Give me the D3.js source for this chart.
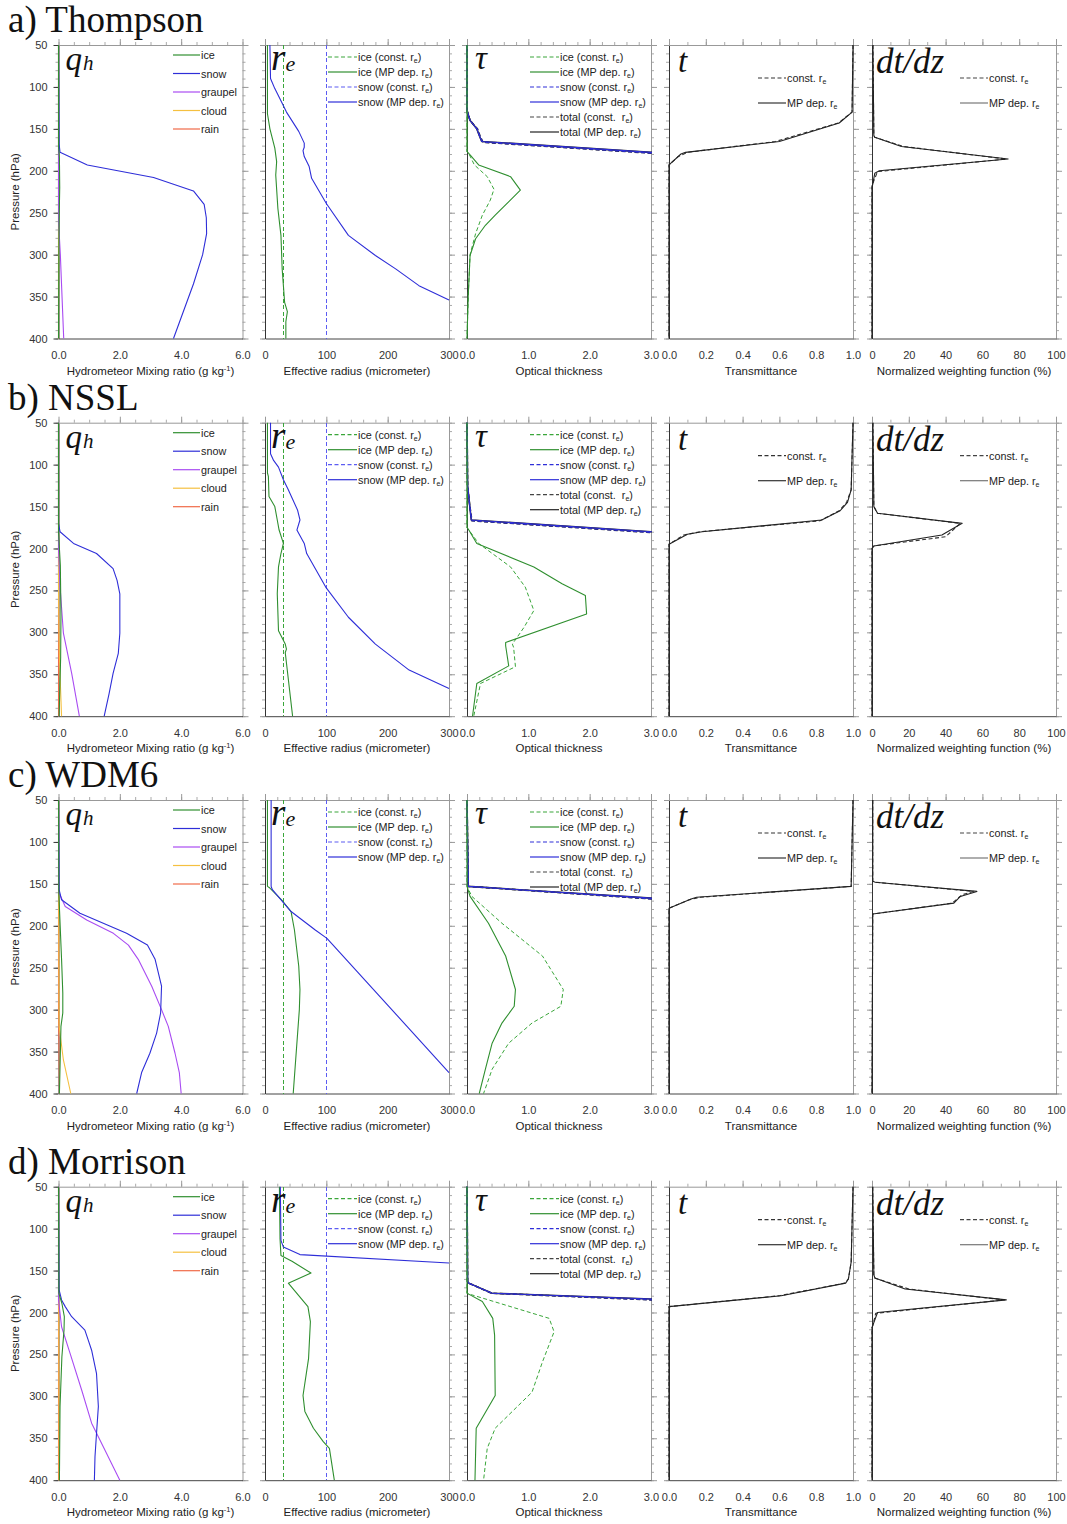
<!DOCTYPE html>
<html>
<head>
<meta charset="utf-8">
<script src="https://cdn.jsdelivr.net/npm/d3@7"></script>
<style>
body { margin: 0; background: #fff; }
svg text { font-family: "Liberation Sans", Arial, sans-serif; }
</style>
</head>
<body>
<div id="chart"></div>
<script>
// ---- data: each series is a list of [pressure (hPa), value] ----
const schemeTitles = ["a) Thompson", "b) NSSL", "c) WDM6", "d) Morrison"];
const hydroNames = ["ice", "snow", "graupel", "cloud", "rain"];

const pressureTicks = [50, 100, 150, 200, 250, 300, 350, 400];
const qhTicks = [0, 2, 4, 6];
const reTicks = [0, 100, 200, 300];
const tauTicks = [0, 1, 2, 3];
const tTicks = [0, 0.2, 0.4, 0.6, 0.8, 1.0];
const dtdzTicks = [0, 20, 40, 60, 80, 100];
const reConst = { ice: 30, snow: 100 };

// a) Thompson
const thompsonQh = {
  ice: [[50,0],[170,0],[185,0.03],[220,0.04],[260,0.02],[300,0.01],[400,0]],
  snow: [[50,0],[168,0.02],[178,0.05],[193,0.94],[208,3.1],[224,4.4],[240,4.75],[256,4.82],[275,4.83],[300,4.7],[335,4.4],[355,4.2],[400,3.75]],
  graupel: [[50,0],[260,0],[300,0.06],[400,0.17]],
  cloud: [[50,0],[400,0]],
  rain: [[50,0],[400,0]]
};
const thompsonRe = {
  ice: [[50,4],[132,4],[150,8],[173,16],[189,19],[205,17.5],[245,21],[277,26],[317,28],[357,32],[368,36.5],[380,34],[400,34]],
  snow: [[50,8],[90,9],[102,16],[118,27],[130,35],[153,55],[167,64],[172,64],[176,62],[183,64],[195,72],[209,76],[239,100],[277,136],[301,180],[317,213],[337,251],[354,300]]
};
const thompsonTau = {
  iceConst: [[50,0],[177,0],[181,0.04],[193,0.12],[207,0.33],[222,0.44],[235,0.38],[253,0.25],[275,0.14],[300,0.05],[350,0.02],[400,0]],
  iceMP: [[50,0],[177,0],[181,0.05],[193,0.19],[207,0.71],[223,0.87],[253,0.46],[265,0.3],[281,0.14],[301,0.05],[349,0.02],[400,0]],
  snowConst: [[50,0],[128,0],[140,0.05],[150,0.17],[158,0.21],[166,0.26],[179,3.0],[183,3.8]],
  snowMP: [[50,0],[128,0],[140,0.05],[150,0.16],[158,0.2],[165,0.24],[178,3.0],[182,3.8]]
};
const thompsonT = {
  constRe: [[50,1],[130,0.995],[143,0.92],[165,0.58],[178,0.1],[183,0.05],[193,0],[400,0]],
  mpRe: [[50,1],[130,0.995],[143,0.925],[165,0.6],[178,0.09],[180,0.065],[193,0],[400,0]]
};
const thompsonDtdz = {
  constRe: [[50,0.5],[158,1],[160,1.5],[171,17],[186,73],[201,3],[212,1],[218,0],[400,0]],
  mpRe: [[50,0.5],[158,1],[160,1.5],[171,16],[186,74],[200,4],[203,1.5],[215,0.5],[220,0],[400,0]]
};

// b) NSSL
const nsslQh = {
  ice: [[50,0],[180,0],[220,0.06],[280,0.08],[330,0.07],[400,0.02]],
  snow: [[50,0],[170,0],[180,0.05],[194,0.49],[206,1.24],[224,1.78],[238,1.91],[254,2.0],[301,2.0],[325,1.95],[349,1.78],[373,1.65],[400,1.49]],
  graupel: [[50,0],[200,0],[245,0.05],[301,0.16],[349,0.43],[400,0.68]],
  cloud: [[50,0],[250,0],[330,0.03],[400,0.1]],
  rain: [[50,0],[400,0]]
};
const nsslRe = {
  ice: [[50,4],[110,4],[114,5.5],[138,6.5],[150,16],[166,20],[178,23],[194,30],[206,26],[222,22],[254,20],[298,22],[314,33],[320,35],[324,33],[400,45]],
  snow: [[50,9],[87,9],[95,14],[103,22],[118,30],[130,38],[154,53],[166,57],[178,52],[194,64],[206,68],[246,99],[282,136],[314,180],[345,235],[367,300]]
};
const nsslTau = {
  iceConst: [[50,0],[175,0],[178,0.03],[194,0.19],[222,0.71],[246,0.95],[274,1.09],[294,0.93],[314,0.74],[318,0.76],[341,0.79],[361,0.22],[400,0.11]],
  iceMP: [[50,0],[175,0],[178,0.03],[194,0.16],[222,1.09],[242,1.55],[256,1.93],[278,1.95],[312,0.63],[316,0.63],[340,0.68],[361,0.16],[400,0.09]],
  snowConst: [[50,0],[126,0.01],[146,0.04],[167,0.08],[181,3.0],[183,3.5]],
  snowMP: [[50,0],[126,0.01],[146,0.04],[166,0.07],[180,3.0],[182,3.5]]
};
const nsslT = {
  constRe: [[50,1],[130,0.99],[145,0.965],[155,0.925],[167,0.82],[180,0.17],[184,0.08],[195,0],[400,0]],
  mpRe: [[50,1],[130,0.99],[145,0.97],[155,0.93],[166,0.83],[180,0.18],[183,0.1],[195,0],[400,0]]
};
const nsslDtdz = {
  constRe: [[50,0.5],[150,1],[158,3],[170,48],[186,40],[197,1],[200,0],[400,0]],
  mpRe: [[50,0.5],[150,1],[158,3],[170,49],[184,38],[197,1],[200,0],[400,0]]
};

// c) WDM6
const wdm6Qh = {
  ice: [[50,0],[161,0.01],[240,0.1],[280,0.14],[304,0.14],[320,0.08],[400,0.03]],
  snow: [[50,0],[157,0.02],[169,0.1],[185,0.7],[209,2.22],[223,2.9],[240,3.15],[272,3.36],[304,3.33],[328,3.2],[352,2.98],[375,2.71],[400,2.55]],
  graupel: [[50,0],[161,0.02],[177,0.22],[193,0.92],[209,1.79],[223,2.28],[240,2.6],[272,3.04],[300,3.36],[320,3.58],[352,3.8],[375,3.94],[400,4.0]],
  cloud: [[50,0],[320,0.02],[360,0.16],[400,0.4]],
  rain: [[50,0],[300,0],[400,0.03]]
};
const wdm6Re = {
  ice: [[50,4],[153,4],[155,8],[169,27],[183,42.5],[205,48],[248,55],[276,57],[300,56],[400,46]],
  snow: [[50,10],[153,10],[157,12],[183,42.5],[205,82],[215,101],[375,300]]
};
const wdm6Tau = {
  iceConst: [[50,0],[153,0],[165,0.08],[197,0.57],[236,1.23],[276,1.57],[296,1.53],[316,1.06],[340,0.68],[371,0.41],[400,0.27]],
  iceMP: [[50,0],[153,0],[165,0.05],[197,0.35],[236,0.63],[276,0.79],[296,0.77],[316,0.57],[340,0.41],[371,0.3],[400,0.2]],
  snowConst: [[50,0],[153,0.02],[168,3.0],[170,3.4]],
  snowMP: [[50,0],[153,0.02],[167,3.0],[169,3.4]]
};
const wdm6T = {
  constRe: [[50,1],[153,0.99],[166,0.17],[169,0.11],[179,0],[400,0]],
  mpRe: [[50,1],[153,0.99],[166,0.15],[168,0.12],[179,0],[400,0]]
};
const wdm6Dtdz = {
  constRe: [[50,0.4],[147,0.4],[148,1.8],[159,55],[163,49],[173,43.6],[186,0.4],[400,0]],
  mpRe: [[50,0.4],[147,0.4],[148,1.8],[159,57],[165,48],[173,44.5],[186,0.4],[400,0]]
};

// d) Morrison
const morrisonQh = {
  ice: [[50,0],[177,0.01],[189,0.11],[205,0.19],[221,0.18],[253,0.11],[312,0.05],[400,0.03]],
  snow: [[50,0],[173,0.02],[185,0.1],[193,0.22],[205,0.43],[221,0.86],[233,0.97],[245,1.08],[273,1.24],[312,1.3],[344,1.24],[372,1.19],[400,1.17]],
  graupel: [[50,0],[185,0],[217,0.1],[249,0.38],[293,0.76],[332,1.08],[360,1.46],[400,2.0]],
  cloud: [[50,0],[200,0.01],[400,0.02]],
  rain: [[50,0],[400,0]]
};
const morrisonRe = {
  ice: [[50,23.5],[112,24.5],[132,26],[139,44],[153,75],[165,38],[193,70],[211,74],[255,71],[299,62],[318,65],[338,79],[354,95],[362,105],[400,113]],
  snow: [[50,25],[114,26],[122,30],[131,57],[141,300]]
};
const morrisonTau = {
  iceConst: [[50,0],[177,0],[179,0.08],[185,0.35],[207,1.34],[223,1.42],[259,1.23],[295,1.06],[338,0.46],[362,0.33],[400,0.27]],
  iceMP: [[50,0],[177,0],[179,0.05],[187,0.25],[207,0.42],[227,0.45],[299,0.46],[338,0.15],[400,0.13]],
  snowConst: [[50,0],[163,0.01],[165,0.03],[177,0.4],[185,3.0],[187,3.6]],
  snowMP: [[50,0],[163,0.01],[165,0.03],[177,0.41],[184,3.0],[186,3.6]]
};
const morrisonT = {
  constRe: [[50,1],[140,0.99],[160,0.975],[165,0.955],[180,0.6],[193,0],[400,0]],
  mpRe: [[50,1],[140,0.99],[160,0.975],[165,0.96],[180,0.61],[193,0],[400,0]]
};
const morrisonDtdz = {
  constRe: [[50,0.4],[155,1],[159,1.6],[172,20],[185,72],[201,2],[215,0.5],[218,0],[400,0]],
  mpRe: [[50,0.4],[155,1],[159,1.6],[172,18],[185,73],[200,3],[215,0.5],[218,0],[400,0]]
};

const rows = [
  { qh: thompsonQh, re: thompsonRe, tau: thompsonTau, t: thompsonT, dtdz: thompsonDtdz },
  { qh: nsslQh, re: nsslRe, tau: nsslTau, t: nsslT, dtdz: nsslDtdz },
  { qh: wdm6Qh, re: wdm6Re, tau: wdm6Tau, t: wdm6T, dtdz: wdm6Dtdz },
  { qh: morrisonQh, re: morrisonRe, tau: morrisonTau, t: morrisonT, dtdz: morrisonDtdz }
];

// ---- layout ----
const width = 1067, height = 1524;
const rowTops = [45, 422.7, 800, 1186.7];
const plotH = 293.5;
const panelX = [58.5, 265, 467, 669, 872];
const panelW = 184;

const colors = {
  ice: "#2f8f2f", snow: "#2e2ed8", graupel: "#a94cf2", cloud: "#f5c040", rain: "#f06a48",
  iceConst: "#3aa63a", snowConst: "#5c5cf2", total: "#222"
};

const panelSpecs = [
  { key: "qh", domain: [0, 6], ticks: qhTicks, minor: 0.5, fmt: d3.format(".1f") },
  { key: "re", domain: [0, 300], ticks: reTicks, minor: 20, fmt: d3.format("d") },
  { key: "tau", domain: [0, 3], ticks: tauTicks, minor: 0.2, fmt: d3.format(".1f") },
  { key: "t", domain: [0, 1], ticks: tTicks, minor: 0.1, fmt: d3.format(".1f") },
  { key: "dtdz", domain: [0, 100], ticks: dtdzTicks, minor: 10, fmt: d3.format("d") }
];

const svg = d3.select("#chart").append("svg")
  .attr("width", width).attr("height", height)
  .style("background", "#fff");

const y = d3.scaleLinear().domain([50, 400]).range([0, plotH]);
const minorP = d3.range(50, 401, 10);

function styleAxis(g, color) {
  g.select(".domain").attr("stroke", color).attr("stroke-width", 1);
  g.selectAll(".tick line").attr("stroke", color);
  g.selectAll(".tick text").attr("fill", "#333").attr("font-size", 11)
    .style("font-family", "'Liberation Sans', Arial, sans-serif");
}

function drawLegend(g, items, x0, y0, dy, len) {
  items.forEach((it, i) => {
    const yy = y0 + i * dy;
    g.append("line")
      .attr("x1", x0).attr("x2", x0 + len).attr("y1", yy).attr("y2", yy)
      .attr("stroke", it.color).attr("stroke-width", 1.2)
      .attr("stroke-dasharray", it.dash || null);
    const t = g.append("text")
      .attr("x", x0 + len + 1).attr("y", yy + 4)
      .attr("font-size", 10.8).attr("fill", "#222")
      .style("white-space", "pre");
    t.append("tspan").text(it.label);
    if (it.sub) {
      t.append("tspan").attr("font-size", 7).attr("dy", 2).text("e");
      t.append("tspan").attr("dy", -2).text(it.after || "");
    }
  });
}

const dashConst = "4,2.5";

rows.forEach((row, ri) => {
  const rowG = svg.append("g").attr("transform", `translate(0,${rowTops[ri]})`);

  rowG.append("text")
    .attr("x", 8).attr("y", -13)
    .style("font-family", "'Liberation Serif', 'Times New Roman', serif")
    .attr("font-size", 37).attr("fill", "#111")
    .text(schemeTitles[ri]);

  rowG.append("text")
    .attr("transform", `translate(19,${plotH / 2}) rotate(-90)`)
    .attr("text-anchor", "middle").attr("font-size", 11.5).attr("fill", "#222")
    .text("Pressure (hPa)");

  panelSpecs.forEach((spec, pi) => {
    const g = rowG.append("g").attr("transform", `translate(${panelX[pi]},0)`);
    const x = d3.scaleLinear().domain(spec.domain).range([0, panelW]);
    const minorX = d3.range(spec.domain[0], spec.domain[1] + 1e-9, spec.minor);
    const clipId = `clip-${ri}-${pi}`;
    g.append("clipPath").attr("id", clipId)
      .append("rect").attr("x", -1).attr("y", -1).attr("width", panelW + 2).attr("height", plotH + 2);

    // minor ticks
    g.append("g").call(d3.axisLeft(y).tickValues(minorP).tickSize(3).tickFormat("").tickSizeOuter(0))
      .call(a => styleAxis(a, "#aaa")).call(a => a.select(".domain").remove());
    g.append("g").attr("transform", `translate(${panelW},0)`)
      .call(d3.axisRight(y).tickValues(minorP).tickSize(3).tickFormat("").tickSizeOuter(0))
      .call(a => styleAxis(a, "#aaa")).call(a => a.select(".domain").remove());
    g.append("g").call(d3.axisTop(x).tickValues(minorX).tickSize(3).tickFormat("").tickSizeOuter(0))
      .call(a => styleAxis(a, "#aaa")).call(a => a.select(".domain").remove());

    // major ticks and frame
    const left = g.append("g").call(
      d3.axisLeft(y).tickValues(pressureTicks).tickSize(5).tickPadding(6).tickSizeOuter(0)
        .tickFormat(pi === 0 ? d3.format("d") : "")
    );
    styleAxis(left, "#999");
    left.select(".domain").attr("stroke", "#333");
    if (pi === 0) left.selectAll(".tick line").attr("stroke", "#333");

    const right = g.append("g").attr("transform", `translate(${panelW},0)`)
      .call(d3.axisRight(y).tickValues(pressureTicks).tickSize(6).tickFormat("").tickSizeOuter(0));
    styleAxis(right, "#999");

    const top = g.append("g")
      .call(d3.axisTop(x).tickValues(spec.ticks).tickSize(6).tickFormat("").tickSizeOuter(0));
    styleAxis(top, "#999");

    const bottom = g.append("g").attr("transform", `translate(0,${plotH})`)
      .call(d3.axisBottom(x).tickValues(spec.ticks).tickSize(0).tickPadding(13).tickFormat(spec.fmt).tickSizeOuter(0));
    styleAxis(bottom, "#444");

    const plot = g.append("g").attr("clip-path", `url(#${clipId})`);
    const line = d3.line().x(d => x(d[1])).y(d => y(d[0]));
    const draw = (data, color, w, dash) => plot.append("path")
      .datum(data).attr("d", line).attr("fill", "none")
      .attr("stroke", color).attr("stroke-width", w)
      .attr("stroke-dasharray", dash || null)
      .attr("stroke-linejoin", "round");

    // axis title
    const titleG = g.append("text")
      .attr("x", panelW / 2).attr("y", plotH + 36)
      .attr("text-anchor", "middle").attr("font-size", 11.5).attr("fill", "#222");

    const labelFont = "'Liberation Serif', 'Times New Roman', serif";
    if (spec.key === "qh") {
      hydroNames.slice().reverse().forEach(h => draw(row.qh[h], colors[h], 1.1));
      drawLegend(g, hydroNames.map(h => ({ label: h, color: colors[h] })), 114.5, 10, 18.5, 27);
      titleG.append("tspan").text("Hydrometeor Mixing ratio (g kg");
      titleG.append("tspan").attr("font-size", 7.5).attr("dy", -4).text("-1");
      titleG.append("tspan").attr("dy", 4).text(")");
      const lab = g.append("text").attr("x", 7).attr("y", 25)
        .style("font-family", labelFont).style("font-style", "italic").attr("fill", "#111");
      lab.append("tspan").attr("font-size", 33).text("q");
      lab.append("tspan").attr("font-size", 21).attr("dx", 1).text("h");
    } else if (spec.key === "re") {
      const constIce = [[50, reConst.ice], [400, reConst.ice]];
      const constSnow = [[50, reConst.snow], [400, reConst.snow]];
      draw(constIce, colors.iceConst, 1.3, dashConst).attr("shape-rendering", "crispEdges");
      draw(constSnow, colors.snowConst, 1.2, dashConst).attr("shape-rendering", "crispEdges");
      draw(row.re.ice, colors.ice, 1.1);
      draw(row.re.snow, colors.snow, 1.1);
      drawLegend(g, [
        { label: "ice (const. r", sub: true, after: ")", color: colors.iceConst, dash: dashConst },
        { label: "ice (MP dep. r", sub: true, after: ")", color: colors.ice },
        { label: "snow (const. r", sub: true, after: ")", color: colors.snowConst, dash: dashConst },
        { label: "snow (MP dep. r", sub: true, after: ")", color: colors.snow }
      ], 63, 12, 15, 29);
      titleG.text("Effective radius (micrometer)");
      const lab = g.append("text").attr("x", 6).attr("y", 25)
        .style("font-family", labelFont).style("font-style", "italic").attr("fill", "#111");
      lab.append("tspan").attr("font-size", 37).text("r");
      lab.append("tspan").attr("font-size", 22).attr("dy", 1).text("e");
    } else if (spec.key === "tau") {
      draw(row.tau.snowConst, colors.total, 1.6, dashConst);
      draw(row.tau.snowMP, colors.total, 1.6);
      draw(row.tau.snowConst, colors.snow, 1.0, dashConst);
      draw(row.tau.snowMP, colors.snow, 1.1);
      draw(row.tau.iceConst, colors.iceConst, 1.0, dashConst);
      draw(row.tau.iceMP, colors.ice, 1.1);
      drawLegend(g, [
        { label: "ice (const. r", sub: true, after: ")", color: colors.iceConst, dash: dashConst },
        { label: "ice (MP dep. r", sub: true, after: ")", color: colors.ice },
        { label: "snow (const. r", sub: true, after: ")", color: colors.snow, dash: dashConst },
        { label: "snow (MP dep. r", sub: true, after: ")", color: colors.snow },
        { label: "total (const.  r", sub: true, after: ")", color: "#444", dash: dashConst },
        { label: "total (MP dep. r", sub: true, after: ")", color: "#222" }
      ], 63, 12, 15, 29);
      titleG.text("Optical thickness");
      g.append("text").attr("x", 8).attr("y", 24)
        .style("font-family", labelFont).style("font-style", "italic")
        .attr("font-size", 33).attr("fill", "#111").text("τ");
    } else if (spec.key === "t") {
      draw(row.t.constRe, "#333", 1.1, dashConst);
      draw(row.t.mpRe, "#222", 1.1);
      drawLegend(g, [
        { label: "const. r", sub: true, after: "", color: "#333", dash: dashConst },
        { label: "MP dep. r", sub: true, after: "", color: "#333" }
      ], 89, 33, 25, 28);
      titleG.text("Transmittance");
      g.append("text").attr("x", 9).attr("y", 27)
        .style("font-family", labelFont).style("font-style", "italic")
        .attr("font-size", 33).attr("fill", "#111").text("t");
    } else {
      draw(row.dtdz.constRe, "#333", 1.1, dashConst);
      draw(row.dtdz.mpRe, "#222", 1.1);
      drawLegend(g, [
        { label: "const. r", sub: true, after: "", color: "#444", dash: dashConst },
        { label: "MP dep. r", sub: true, after: "", color: "#777" }
      ], 88, 33, 25, 28);
      titleG.text("Normalized weighting function (%)");
      g.append("text").attr("x", 4).attr("y", 28)
        .style("font-family", labelFont).style("font-style", "italic")
        .attr("font-size", 35).attr("fill", "#111").text("dt/dz");
    }
  });
});
</script>
</body>
</html>
